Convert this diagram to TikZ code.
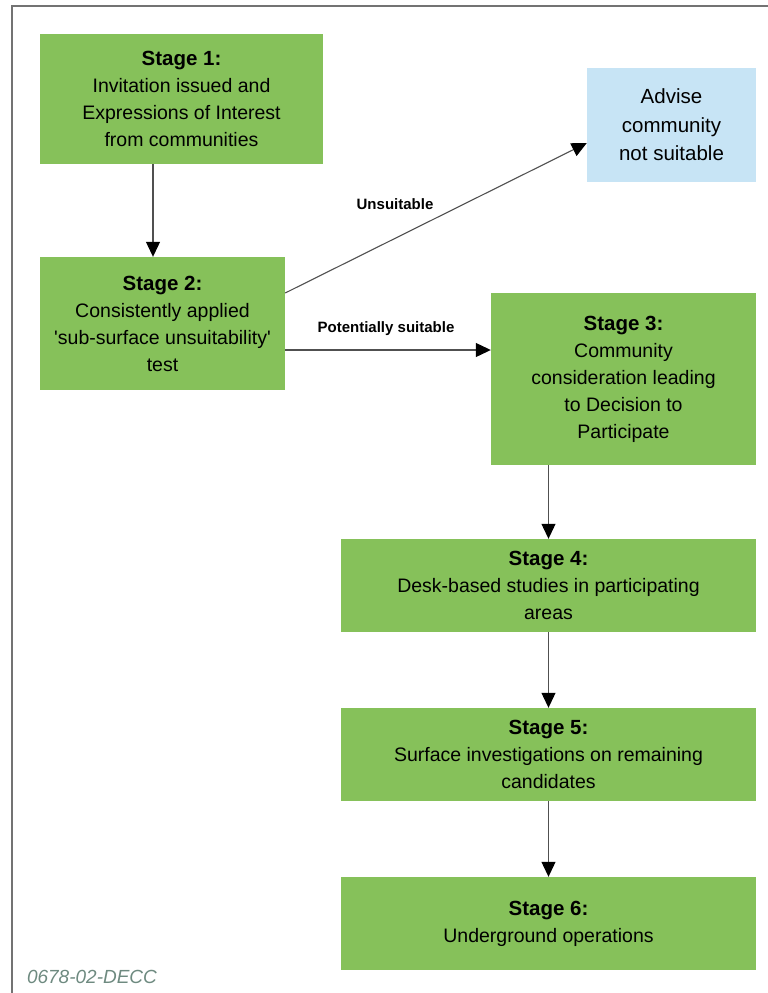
\documentclass[tikz,border=0pt]{standalone}
\usepackage{fontspec}
\setmainfont{Liberation Sans}
\usetikzlibrary{arrows.meta}
\definecolor{stagegreen}{RGB}{134,193,90}
\definecolor{adviseblue}{RGB}{199,228,245}
\definecolor{framegray}{RGB}{115,115,115}
\definecolor{codegray}{RGB}{110,138,128}
\definecolor{linegray}{RGB}{80,80,80}
\newcommand{\stagehead}[1]{{\fontsize{20.5}{26.5}\selectfont\bfseries #1}}
\newcommand{\sq}{\XeTeXglyph\XeTeXglyphindex "quotesingle"\relax}
\begin{document}
\begin{tikzpicture}[x=1pt,y=-1pt,
  stagebox/.style={fill=stagegreen, draw=none, align=center, inner sep=0pt,
    font=\fontsize{19.5}{27}\selectfont},
  advbox/.style={fill=adviseblue, draw=none, align=center, inner sep=0pt,
    font=\fontsize{20.5}{28.5}\selectfont},
  conn/.style={draw=linegray, line width=1.1pt,
    -{Triangle[length=15pt,width=14pt,color=black]}},
  edgelabel/.style={font=\bfseries\fontsize{15}{18}\selectfont, inner sep=0pt},
  codelabel/.style={font=\itshape\fontsize{19}{22}\selectfont, text=codegray, inner sep=0pt}
]
\useasboundingbox (0,0) rectangle (768,993);
\draw[framegray, line width=1.5pt] (12,993) -- (12,6) -- (768,6);

\node[stagebox, minimum width=283pt, minimum height=130pt] (s1) at (181.5,99)
  {\stagehead{Stage 1:}\\Invitation issued and\\Expressions of Interest\\from communities};
\node[stagebox, minimum width=245pt, minimum height=133pt] (s2) at (162.5,323.5)
  {\stagehead{Stage 2:}\\Consistently applied\\\sq sub-surface unsuitability\sq\\test};
\node[advbox, minimum width=169pt, minimum height=114pt] (adv) at (671.5,125)
  {Advise\\community\\not suitable};
\node[stagebox, minimum width=265pt, minimum height=172pt] (s3) at (623.5,379)
  {\stagehead{Stage 3:}\\Community\\consideration leading\\to Decision to\\Participate};
\node[stagebox, minimum width=415pt, minimum height=93pt] (s4) at (548.5,585.5)
  {\stagehead{Stage 4:}\\Desk-based studies in participating\\areas};
\node[stagebox, minimum width=415pt, minimum height=93pt] (s5) at (548.5,754.5)
  {\stagehead{Stage 5:}\\Surface investigations on remaining\\candidates};
\node[stagebox, minimum width=415pt, minimum height=93pt] (s6) at (548.5,923.5)
  {\stagehead{Stage 6:}\\Underground operations};

\node[edgelabel] (lunsuit) at (395,204) {Unsuitable};
\node[edgelabel] (lpot) at (386,329) {Potentially suitable};
\node[codelabel] (code) at (92,977) {0678-02-DECC};

\draw[conn] ([xshift=-28.5pt]s1.south) -- ([xshift=-28.5pt]s1.south |- s2.north);
\draw[conn] ([yshift=30.5pt]s2.east) -- ([yshift=-18pt]adv.west);
\draw[conn] ([yshift=-26.5pt]s2.east) -- ([yshift=-26.5pt]s2.east -| s3.west);
\draw[conn] (s3.south -| s4.north) -- (s4.north);
\draw[conn] (s4.south) -- (s5.north);
\draw[conn] (s5.south) -- (s6.north);
\end{tikzpicture}
\end{document}
